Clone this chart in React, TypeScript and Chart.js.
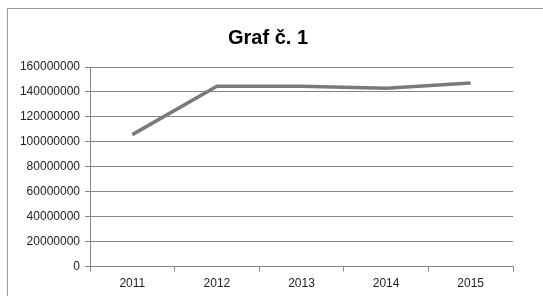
import React, { useEffect, useRef } from "react";
import { Chart, registerables } from "chart.js";

Chart.register(...registerables);

const categories = ["2011", "2012", "2013", "2014", "2015"];
const values = [105800000, 144600000, 144600000, 143000000, 147200000];
const yMin = 0;
const yMax = 160000000;
const yStep = 20000000;
const titleText = "Graf č. 1";

const titlePlugin = {
  id: "customTitle",
  afterDraw(chart: any) {
    const c = chart.ctx;
    c.save();
    c.font = "bold 20px 'Liberation Sans'";
    c.fillStyle = "#000";
    c.textAlign = "center";
    c.textBaseline = "middle";
    c.fillText(titleText, 268, 38);
    c.restore();
  },
};

export default function App() {
  const ref = useRef<HTMLCanvasElement | null>(null);
  useEffect(() => {
    document.body.style.margin = "0";
    const ctx = ref.current!.getContext("2d")!;
    const chart = new Chart(ctx, {
      type: "line",
      data: {
        labels: categories,
        datasets: [
          {
            data: values,
            borderColor: "#7a7a7a",
            borderWidth: 3.5,
            pointRadius: 0,
            tension: 0,
            fill: false,
          },
        ],
      },
      plugins: [titlePlugin],
      options: {
        animation: false,
        responsive: false,
        layout: { padding: { left: 10, top: 67, right: 30, bottom: 0 } },
        plugins: {
          legend: { display: false },
          tooltip: { enabled: false },
          title: { display: false },
        },
        scales: {
          x: {
            offset: true,
            grid: {
              offset: true,
              drawOnChartArea: false,
              drawTicks: true,
              tickLength: 5,
              color: "#858585",
            },
            border: { display: true, color: "#858585" },
            ticks: {
              color: "#222",
              font: { family: "Liberation Sans", size: 12 },
              padding: 5,
              maxRotation: 0,
            },
          },
          y: {
            min: yMin,
            max: yMax,
            afterFit: (s: any) => {
              s.width = 80;
            },
            grid: { color: "#858585", tickLength: 5 },
            border: { display: true, color: "#858585" },
            ticks: {
              stepSize: yStep,
              color: "#222",
              font: { family: "Liberation Sans", size: 12 },
              padding: 5,
              callback: (v: any) => String(v),
            },
          },
        },
      },
    });
    return () => chart.destroy();
  }, []);
  return (
    <div style={{ position: "relative", width: 543, height: 296, overflow: "hidden", background: "#fff" }}>
      <div
        style={{
          position: "absolute",
          left: 7,
          top: 8,
          width: 560,
          height: 320,
          border: "1px solid #9a9a9a",
          boxSizing: "border-box",
        }}
      />
      <canvas ref={ref} width={543} height={296} style={{ position: "absolute", left: 0, top: 0 }} />
    </div>
  );
}
